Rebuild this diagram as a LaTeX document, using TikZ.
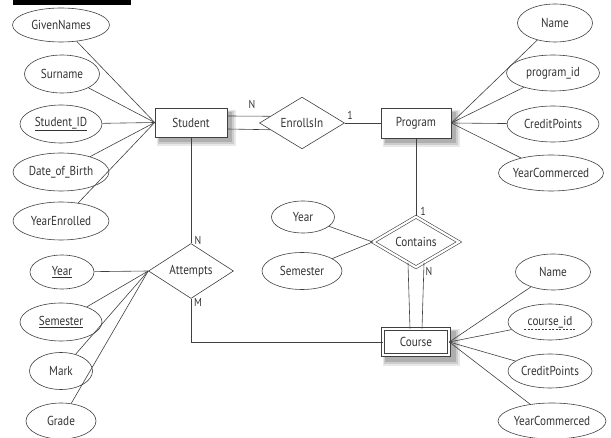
\documentclass[tikz,border=0pt]{standalone}
\usepackage{fontspec}
\setmainfont{PT Sans}[FakeStretch=0.86]
\usetikzlibrary{shapes.geometric}
\definecolor{shdA}{RGB}{232,232,232}
\definecolor{shdB}{RGB}{205,205,205}
\definecolor{shdC}{RGB}{175,175,175}
\begin{document}
\begin{tikzpicture}[x=1pt,y=-1pt,
  every node/.style={font=\fontsize{13}{14}\selectfont, text=black!80},
  attr/.style={draw=black!75, line width=0.6pt, ellipse, inner xsep=-8pt, inner ysep=0pt},
  ent/.style={draw=black!75, line width=0.6pt, rectangle, minimum width=72pt, minimum height=29pt, fill=white},
  rel/.style={draw=black!75, line width=0.6pt, diamond, inner sep=0pt, fill=white},
  conn/.style={draw=black!75, line width=0.6pt},
  card/.style={font=\fontsize{11.5}{12}\selectfont}
]
\useasboundingbox (0,0) rectangle (611,438);
\fill[black] (13,0) rectangle (131,5);

% soft shadows behind the entity boxes
\fill[shdA] (157,110) rectangle (236,146);
\fill[shdB] (158,111) rectangle (234,144);
\fill[shdC] (159,112) rectangle (232,142);
\fill[shdA] (383,110) rectangle (460,147);
\fill[shdB] (384,111) rectangle (458,145);
\fill[shdC] (385,112) rectangle (456,143);
\fill[shdA] (383,329) rectangle (460,366);
\fill[shdB] (384,330) rectangle (458,364);
\fill[shdC] (385,331) rectangle (456,362);

% Student and attributes
\node[ent] (stu) at (191,122.5) {Student};
\node[attr, minimum width=97pt, minimum height=34pt] (gn) at (61,25) {GivenNames};
\node[attr, minimum width=75pt, minimum height=38pt] (sn) at (62,74) {Surname};
\node[attr, minimum width=82pt, minimum height=38pt] (sid) at (61,124) {\underline{Student\_ID}};
\node[attr, minimum width=96pt, minimum height=38pt] (dob) at (61,172) {Date\_of\_Birth};
\node[attr, minimum width=96pt, minimum height=38pt] (ye) at (61,221) {YearEnrolled};

% EnrollsIn and Program
\node[rel, minimum width=85pt, minimum height=46pt] (enr) at (302,123) {EnrollsIn};
\node[ent, minimum width=70pt, minimum height=30pt] (prg) at (416,123) {Program};
\node[attr, minimum width=75pt, minimum height=38pt] (pn) at (555,23) {Name};
\node[attr, minimum width=93pt, minimum height=36pt] (pid) at (553,73) {program\_id};
\node[attr, minimum width=92pt, minimum height=36pt] (pcp) at (553,124) {CreditPoints};
\node[attr, minimum width=105pt, minimum height=36pt] (pyc) at (551,173) {YearCommerced};

% Contains
\node[rel, double, double distance=2.2pt, minimum width=86pt, minimum height=37pt] (con) at (416,242) {Contains};
\node[attr, minimum width=63pt, minimum height=32pt] (cy) at (303,217) {Year};
\node[attr, minimum width=80pt, minimum height=37pt] (cs) at (302,271) {Semester};

% Course
\node[ent, double, double distance=2.4pt, minimum width=66pt, minimum height=26pt] (crs) at (416,342) {Course};
\node[attr, minimum width=75pt, minimum height=36pt] (cn) at (553,272) {Name};
\node[attr, minimum width=84pt, minimum height=36pt] (cid) at (550,322) {course\_id};
\draw[black!75, line width=0.6pt, dash pattern=on 2pt off 1.5pt] ([shift={(-26,7)}]cid.center) -- ([shift={(26,7)}]cid.center);
\node[attr, minimum width=84pt, minimum height=34pt] (ccp) at (550,371) {CreditPoints};
\node[attr, minimum width=108pt, minimum height=36pt] (cyc) at (552,421) {YearCommerced};

% Attempts
\node[rel, minimum width=85pt, minimum height=44pt] (att) at (191,271) {Attempts};
\node[attr, minimum width=64pt, minimum height=34pt] (ay) at (62,272) {\underline{Year}};
\node[attr, minimum width=82pt, minimum height=38pt] (as) at (61,322) {\underline{Semester}};
\node[attr, minimum width=63pt, minimum height=37pt] (am) at (61,371) {Mark};
\node[attr, minimum width=70pt, minimum height=36pt] (ag) at (61,421) {Grade};

% connectors
\foreach \a in {gn,sn,sid,dob,ye} \draw[conn] (\a) -- (stu.west);
\foreach \a in {pn,pid,pcp,pyc} \draw[conn] (\a) -- (prg.east);
\foreach \a in {cn,cid,ccp,cyc} \draw[conn] (\a) -- (crs.east);
\foreach \a in {ay,as,am,ag} \draw[conn] (\a) -- (att.west);
\foreach \a in {cy,cs} \draw[conn] (\a) -- (con.west);

\draw[conn] ([yshift=6.5pt]stu.east) -- (enr.168);
\draw[conn] ([yshift=-6.5pt]stu.east) -- (enr.192);
\draw[conn] (enr) -- (prg);
\draw[conn] (stu) -- (att);
\draw[conn] (att.south) |- (crs.west);
\draw[conn] (prg) -- (con);
\draw[conn] (con.249) -- ([xshift=-6pt]crs.north);
\draw[conn] (con.291) -- ([xshift=6pt]crs.north);

% cardinalities
\node[card] (lN1) at (252,104) {N};
\node[card] (l11) at (350,115) {1};
\node[card] (lN2) at (198,240) {N};
\node[card] (lM) at (198,302) {M};
\node[card] (l12) at (423,211) {1};
\node[card] (lN3) at (429,271) {N};
\end{tikzpicture}
\end{document}
